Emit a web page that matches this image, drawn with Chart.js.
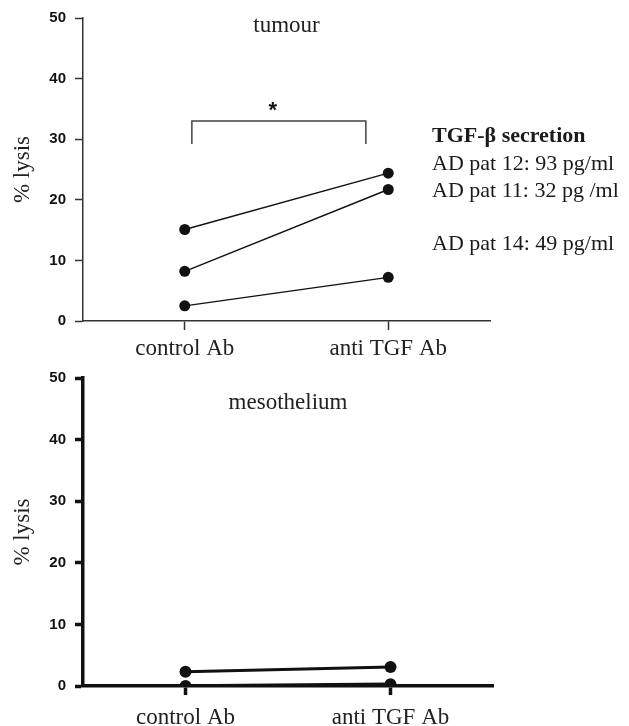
<!DOCTYPE html>
<html>
<head>
<meta charset="utf-8">
<script src="https://cdn.jsdelivr.net/npm/chart.js@4/dist/chart.umd.min.js"></script>
<style>
  html, body { margin: 0; padding: 0; background: #fff; }
  .panel { position: absolute; left: 0; width: 629px; }
  #tumour { top: 0; height: 360px; }
  #meso { top: 360px; height: 366px; }
</style>
</head>
<body>
<div class="panel" id="tumour"><canvas id="tumourChart" width="629" height="360"></canvas></div>
<div class="panel" id="meso"><canvas id="mesoChart" width="629" height="366"></canvas></div>
<script>
const groups = ['control Ab', 'anti TGF Ab'];
const yTicks = [0, 10, 20, 30, 40, 50];

// % lysis, tumour targets (one line per patient)
const tumourPat12 = [15.1, 24.4];
const tumourPat11 = [8.2, 21.7];
const tumourPat14 = [2.5, 7.2];

// % lysis, mesothelium targets
const mesoUpper = [2.3, 3.1];
const mesoLower = [0, 0.3];

const secretionTitle = 'TGF-β secretion';
const secretionLines = ['AD pat 12: 93 pg/ml', 'AD pat 11: 32 pg /ml', '', 'AD pat 14: 49 pg/ml'];

// significance bracket drawn over the tumour lines
const bracketTop = 33;
const bracketFoot = 29.2;

const serif = '"Liberation Serif", "Times New Roman", serif';
const sans = '"Liberation Sans", Arial, sans-serif';

function lineSet(values, width, radius) {
  return {
    data: values,
    borderColor: '#111',
    backgroundColor: '#111',
    borderWidth: width,
    pointRadius: radius,
    pointHoverRadius: radius,
    pointBackgroundColor: '#111',
    pointBorderWidth: 0,
    tension: 0
  };
}

function makeScales(axisWidth, axisColor, scaleHeight, labelGap) {
  return {
    x: {
      type: 'category',
      offset: true,
      grid: { display: true, drawOnChartArea: false, drawTicks: true, tickLength: 9, tickWidth: axisWidth, tickColor: axisColor },
      border: { display: true, color: axisColor, width: axisWidth },
      ticks: { color: '#222', font: { family: serif, size: 23 }, padding: labelGap, maxRotation: 0 },
      afterFit: s => { s.height = scaleHeight; }
    },
    y: {
      min: 0,
      max: 50,
      afterBuildTicks: s => { s.ticks = yTicks.map(v => ({ value: v })); },
      grid: { display: true, drawOnChartArea: false, drawTicks: true, tickLength: 8, tickWidth: axisWidth, tickColor: axisColor },
      border: { display: true, color: axisColor, width: axisWidth },
      ticks: { color: '#111', font: { family: sans, size: 15, weight: 'bold' }, padding: 9 },
      title: { display: true, text: '% lysis', color: '#222', font: { family: serif, size: 23 }, padding: { top: 9, bottom: 0 } },
      afterFit: s => { s.width = 83; }
    }
  };
}

const tumourDecor = {
  id: 'tumourDecor',
  afterDraw(chart) {
    const { ctx, chartArea, scales } = chart;
    const x = scales.x, y = scales.y;
    ctx.save();
    ctx.fillStyle = '#222';
    ctx.textAlign = 'center';
    ctx.textBaseline = 'alphabetic';
    ctx.font = '23px ' + serif;
    ctx.fillText('tumour', (chartArea.left + chartArea.right) / 2, 32);

    // bracket between the two groups
    const step = x.getPixelForValue(1) - x.getPixelForValue(0);
    const bx0 = x.getPixelForValue(0) + step * 0.035;
    const bx1 = x.getPixelForValue(1) - step * 0.11;
    ctx.strokeStyle = '#444';
    ctx.lineWidth = 1.5;
    ctx.beginPath();
    ctx.moveTo(bx0, y.getPixelForValue(bracketFoot));
    ctx.lineTo(bx0, y.getPixelForValue(bracketTop));
    ctx.lineTo(bx1, y.getPixelForValue(bracketTop));
    ctx.lineTo(bx1, y.getPixelForValue(bracketFoot));
    ctx.stroke();
    ctx.font = 'bold 22px ' + sans;
    ctx.fillStyle = '#111';
    ctx.fillText('*', (bx0 + bx1) / 2 - 6, y.getPixelForValue(bracketTop) - 4);

    // secretion notes on the right
    ctx.textAlign = 'left';
    ctx.fillStyle = '#1a1a1a';
    ctx.font = 'bold 22px ' + serif;
    ctx.fillText(secretionTitle, 432, 142);
    ctx.font = '22px ' + serif;
    secretionLines.forEach((t, i) => { if (t) ctx.fillText(t, 432, 170 + i * 26.7); });
    ctx.restore();
  }
};

const mesoDecor = {
  id: 'mesoDecor',
  afterDraw(chart) {
    const { ctx, chartArea } = chart;
    ctx.save();
    ctx.fillStyle = '#222';
    ctx.textAlign = 'center';
    ctx.font = '23px ' + serif;
    ctx.fillText('mesothelium', (chartArea.left + chartArea.right) / 2, 49);
    ctx.restore();
  }
};

new Chart(document.getElementById('tumourChart'), {
  type: 'line',
  data: {
    labels: groups,
    datasets: [lineSet(tumourPat12, 1.4, 5.5), lineSet(tumourPat11, 1.4, 5.5), lineSet(tumourPat14, 1.4, 5.5)]
  },
  options: {
    responsive: false,
    animation: false,
    layout: { padding: { top: 16, right: 139, bottom: 0, left: 0 } },
    plugins: { legend: { display: false }, tooltip: { enabled: false } },
    scales: makeScales(1.5, '#333', 39, 5)
  },
  plugins: [tumourDecor]
});

new Chart(document.getElementById('mesoChart'), {
  type: 'line',
  data: {
    labels: groups,
    datasets: [lineSet(mesoUpper, 3, 6), lineSet(mesoLower, 3.5, 6)]
  },
  options: {
    responsive: false,
    animation: false,
    layout: { padding: { top: 18, right: 136, bottom: 0, left: 0 } },
    plugins: { legend: { display: false }, tooltip: { enabled: false } },
    scales: makeScales(3.5, '#111', 40, 9)
  },
  plugins: [mesoDecor]
});
</script>
</body>
</html>
